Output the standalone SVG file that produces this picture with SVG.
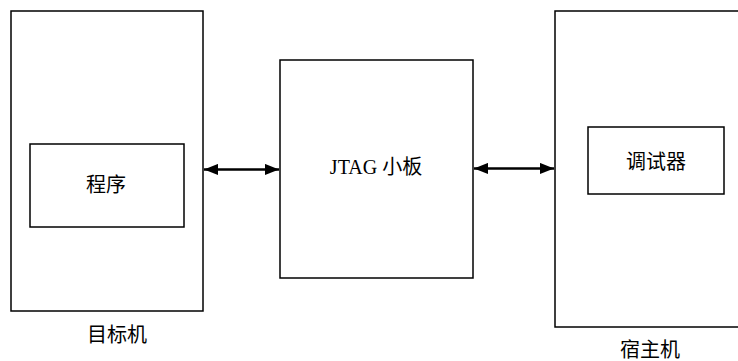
<svg xmlns="http://www.w3.org/2000/svg" width="738" height="361" viewBox="0 0 738 361">
<style>
.box{fill:#fff;stroke:#000;stroke-width:1.5}
.t{font-family:"Liberation Serif","Noto Sans CJK SC",serif;font-size:20px;fill:#000;text-anchor:middle}
.c{stroke:#000;stroke-width:2.5;fill:none;marker-start:url(#ah);marker-end:url(#ah)}
</style>
<defs>
<marker id="ah" viewBox="0 0 10 8" refX="10" refY="4" markerWidth="5.6" markerHeight="4.8" markerUnits="strokeWidth" orient="auto-start-reverse">
<path d="M0,0 L10,4 L0,8 Z" fill="#000"/>
</marker>
</defs>
<g id="target">
<rect class="box" x="11" y="11" width="192" height="300"/>
<text class="t" x="117" y="342">目标机</text>
</g>
<g id="program">
<rect class="box" x="30" y="144" width="154" height="83"/>
<text class="t" x="106" y="192">程序</text>
</g>
<g id="jtag">
<rect class="box" x="280" y="60" width="193" height="218"/>
<text class="t" x="376" y="174">JTAG 小板</text>
</g>
<g id="host">
<rect class="box" x="555" y="11" width="190" height="316"/>
<text class="t" x="650" y="357">宿主机</text>
</g>
<g id="debugger">
<rect class="box" x="588" y="127" width="136" height="67"/>
<text class="t" x="656" y="169">调试器</text>
</g>
<g id="connectors">
<line class="c" x1="204" y1="169.5" x2="279" y2="169.5"/>
<line class="c" x1="474" y1="168.5" x2="554" y2="168.5"/>
</g>
</svg>
